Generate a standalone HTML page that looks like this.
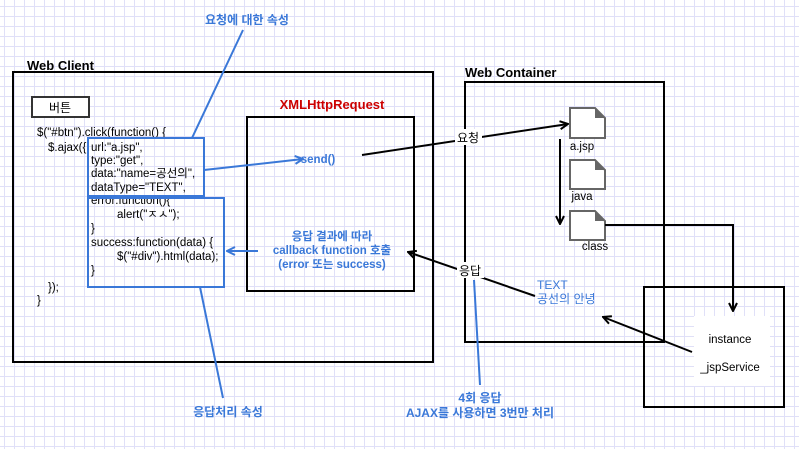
<!DOCTYPE html>
<html><head><meta charset="utf-8"><style>
html,body{margin:0;padding:0;background:#fff}
svg{display:block}
text{font-family:"Liberation Sans","Noto Sans CJK KR",sans-serif}
</style></head><body>
<svg width="799" height="449" xmlns="http://www.w3.org/2000/svg">
<defs>
<pattern id="g" x="4" y="6" width="10" height="10" patternUnits="userSpaceOnUse">
<path d="M0 0.5H10M0.5 0V10" stroke="#e0e0f8" stroke-width="1" fill="none"/>
</pattern>
<marker id="ab" markerWidth="10" markerHeight="10" refX="9" refY="5" orient="auto" markerUnits="userSpaceOnUse"><path d="M1 1L9 5L1 9" fill="none" stroke="#000" stroke-width="2"/></marker>
<marker id="au" markerWidth="10" markerHeight="10" refX="9" refY="5" orient="auto" markerUnits="userSpaceOnUse"><path d="M1 1L9 5L1 9" fill="none" stroke="#3a78d8" stroke-width="2"/></marker>
</defs>
<rect width="799" height="449" fill="url(#g)"/>

<!-- Web Client -->
<text x="27" y="70" font-size="13" font-weight="bold">Web Client</text>
<rect x="13" y="72" width="420" height="290" fill="none" stroke="#000" stroke-width="2"/>
<rect x="32" y="97" width="57" height="20" fill="#fff" stroke="#333" stroke-width="2"/>
<text x="60" y="112" font-size="12" text-anchor="middle">버튼</text>
<g font-size="11.5">
<text x="37" y="136">$("#btn").click(function() {</text>
<text x="48" y="151">$.ajax({</text>
<text x="91" y="151">url:"a.jsp",</text>
<text x="91" y="164">type:"get",</text>
<text x="91" y="177">data:"name=공선의",</text>
<text x="91" y="191">dataType="TEXT",</text>
<text x="91" y="204">error:function(){</text>
<text x="117" y="218">alert("ㅈㅅ");</text>
<text x="91" y="232">}</text>
<text x="91" y="246">success:function(data) {</text>
<text x="117" y="260">$("#div").html(data);</text>
<text x="91" y="274">}</text>
<text x="48" y="291">});</text>
<text x="37" y="304">}</text>
</g>
<rect x="88" y="138" width="116" height="58" fill="none" stroke="#3a78d8" stroke-width="2"/>
<rect x="88" y="198" width="136" height="89" fill="none" stroke="#3a78d8" stroke-width="2"/>

<!-- XMLHttpRequest -->
<text x="332" y="109" font-size="13" font-weight="bold" fill="#cc0000" text-anchor="middle">XMLHttpRequest</text>
<rect x="247" y="117" width="167" height="174" fill="none" stroke="#000" stroke-width="2"/>
<text x="318" y="163" font-size="11.5" font-weight="bold" fill="#3a78d8" text-anchor="middle">send()</text>
<g font-size="11.5" font-weight="bold" fill="#3a78d8" text-anchor="middle">
<text x="332" y="240">응답 결과에 따라</text>
<text x="332" y="254">callback function 호출</text>
<text x="332" y="268">(error 또는 success)</text>
</g>
<line x1="204" y1="170" x2="303" y2="159" stroke="#3a78d8" stroke-width="2" marker-end="url(#au)"/>
<line x1="258" y1="251" x2="227" y2="251" stroke="#3a78d8" stroke-width="2" marker-end="url(#au)"/>

<!-- blue labels -->
<text x="247" y="24" font-size="12" font-weight="bold" fill="#3a78d8" text-anchor="middle">요청에 대한 속성</text>
<line x1="243" y1="30" x2="192" y2="138" stroke="#3a78d8" stroke-width="2"/>
<line x1="200" y1="287" x2="223" y2="398" stroke="#3a78d8" stroke-width="2"/>
<text x="228" y="416" font-size="12" font-weight="bold" fill="#3a78d8" text-anchor="middle">응답처리 속성</text>

<!-- Web Container -->
<text x="465" y="77" font-size="13" font-weight="bold">Web Container</text>
<rect x="465" y="82" width="199" height="260" fill="none" stroke="#000" stroke-width="2"/>

<!-- files -->
<g fill="#fff" stroke="#666" stroke-width="2">
<path d="M570 108H595L605 118V138H570Z"/>
<path d="M570 160H595L605 170V189H570Z"/>
<path d="M570 211H595L605 221V240H570Z"/>
</g>
<g fill="#666"><path d="M595 108L605 118H595Z"/><path d="M595 160L605 170H595Z"/><path d="M595 211L605 221H595Z"/></g>
<g font-size="11.5" text-anchor="middle">
<text x="582" y="150">a.jsp</text>
<text x="582" y="200">java</text>
<text x="595" y="250">class</text>
</g>
<line x1="560" y1="139" x2="560" y2="224" stroke="#000" stroke-width="2" marker-end="url(#ab)"/>
<polyline points="605,225 733,225 733,311" fill="none" stroke="#000" stroke-width="2" marker-end="url(#ab)"/>

<!-- instance box -->
<rect x="644" y="287" width="140" height="120" fill="none" stroke="#000" stroke-width="2"/>
<rect x="694" y="316" width="76" height="70" fill="#fff"/>
<line x1="664" y1="287" x2="664" y2="342" stroke="#000" stroke-width="2"/>
<text x="730" y="343" font-size="11.5" text-anchor="middle">instance</text>
<text x="730" y="371" font-size="11.5" text-anchor="middle">_jspService</text>
<line x1="692" y1="352" x2="603" y2="317" stroke="#000" stroke-width="2" marker-end="url(#ab)"/>

<!-- request arrow -->
<line x1="362" y1="155" x2="568" y2="124" stroke="#000" stroke-width="2" marker-end="url(#ab)"/>
<rect x="455" y="129" width="27" height="16" fill="#fff"/>
<text x="468" y="142" font-size="12" text-anchor="middle">요청</text>

<!-- response arrow -->
<line x1="535" y1="296" x2="408" y2="252" stroke="#000" stroke-width="2" marker-end="url(#ab)"/>
<line x1="474" y1="280" x2="480" y2="385" stroke="#3a78d8" stroke-width="2"/>
<rect x="457" y="262" width="27" height="16" fill="#fff"/>
<text x="470" y="275" font-size="12" text-anchor="middle">응답</text>
<g font-size="12" fill="#3a78d8">
<text x="537" y="289">TEXT</text>
<text x="537" y="303">공선의 안녕</text>
</g>
<g font-size="12" font-weight="bold" fill="#3a78d8" text-anchor="middle">
<text x="480" y="402">4회 응답</text>
<text x="480" y="417">AJAX를 사용하면 3번만 처리</text>
</g>
</svg>
</body></html>
